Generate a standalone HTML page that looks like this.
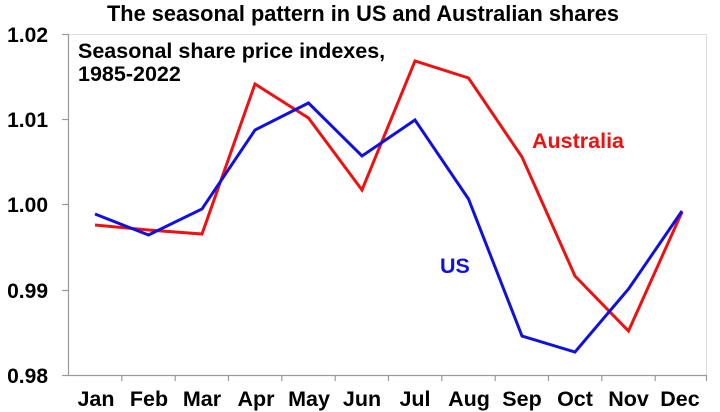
<!DOCTYPE html>
<html><head><meta charset="utf-8"><style>
html,body{margin:0;padding:0;background:#fff;}
svg{display:block;font-family:"Liberation Sans",Arial,sans-serif;font-weight:bold;}
</style></head><body>
<svg width="720" height="412" viewBox="0 0 720 412">
<text x="363" y="21" font-size="22" text-anchor="middle" textLength="512" lengthAdjust="spacingAndGlyphs">The seasonal pattern in US and Australian shares</text>
<g stroke="#ddd" stroke-width="1" fill="none">
<line x1="68" y1="34.5" x2="706" y2="34.5"/>
<line x1="706.5" y1="34" x2="706.5" y2="375"/>
</g>
<g stroke="#999" stroke-width="1.2" fill="none">
<line x1="68.5" y1="34" x2="68.5" y2="375"/>
<line x1="68" y1="375.5" x2="707" y2="375.5"/>
<line x1="62" y1="34.5" x2="68" y2="34.5"/>
<line x1="62" y1="119.5" x2="68" y2="119.5"/>
<line x1="62" y1="204.5" x2="68" y2="204.5"/>
<line x1="62" y1="290.5" x2="68" y2="290.5"/>
<line x1="62" y1="375.5" x2="68" y2="375.5"/>
<g>
<line x1="121.8" y1="375" x2="121.8" y2="381"/><line x1="175.2" y1="375" x2="175.2" y2="381"/>
<line x1="228.5" y1="375" x2="228.5" y2="381"/><line x1="281.8" y1="375" x2="281.8" y2="381"/>
<line x1="335.2" y1="375" x2="335.2" y2="381"/><line x1="388.5" y1="375" x2="388.5" y2="381"/>
<line x1="441.8" y1="375" x2="441.8" y2="381"/><line x1="495.2" y1="375" x2="495.2" y2="381"/>
<line x1="548.5" y1="375" x2="548.5" y2="381"/><line x1="601.8" y1="375" x2="601.8" y2="381"/>
<line x1="655.2" y1="375" x2="655.2" y2="381"/><line x1="706.5" y1="375" x2="706.5" y2="381"/>
</g></g>
<g font-size="21" text-anchor="end">
<text x="48" y="42">1.02</text><text x="48" y="127">1.01</text>
<text x="48" y="212">1.00</text><text x="48" y="298">0.99</text><text x="48" y="383">0.98</text>
</g>
<g font-size="21.5" text-anchor="middle">
<text x="96" y="406">Jan</text><text x="149" y="406">Feb</text><text x="202" y="406">Mar</text>
<text x="256" y="406">Apr</text><text x="309" y="406">May</text><text x="362" y="406">Jun</text>
<text x="415" y="406">Jul</text><text x="469" y="406">Aug</text><text x="522" y="406">Sep</text>
<text x="575" y="406">Oct</text><text x="628.5" y="406">Nov</text><text x="680" y="406">Dec</text>
</g>
<text x="78" y="58" font-size="21.5">Seasonal share price indexes,</text>
<text x="78" y="81" font-size="21.5">1985-2022</text>
<polyline fill="none" stroke="#ee1111" stroke-width="3" points="95,225 148.5,230 202,234 255,84 308.5,118 362,190 415,61 468.5,78 522,157 575,276 628.5,331 682,212"/>
<polyline fill="none" stroke="#1111dd" stroke-width="3" points="95,214 148.5,235 202,209 255,130 308.5,103 362,156 415,120 468.5,199 522,336 575,352 628.5,289 682,211"/>
<text x="532" y="148" font-size="21.5" fill="#ee1111">Australia</text>
<text x="440" y="273" font-size="21.5" fill="#1111dd">US</text>
</svg>
</body></html>
